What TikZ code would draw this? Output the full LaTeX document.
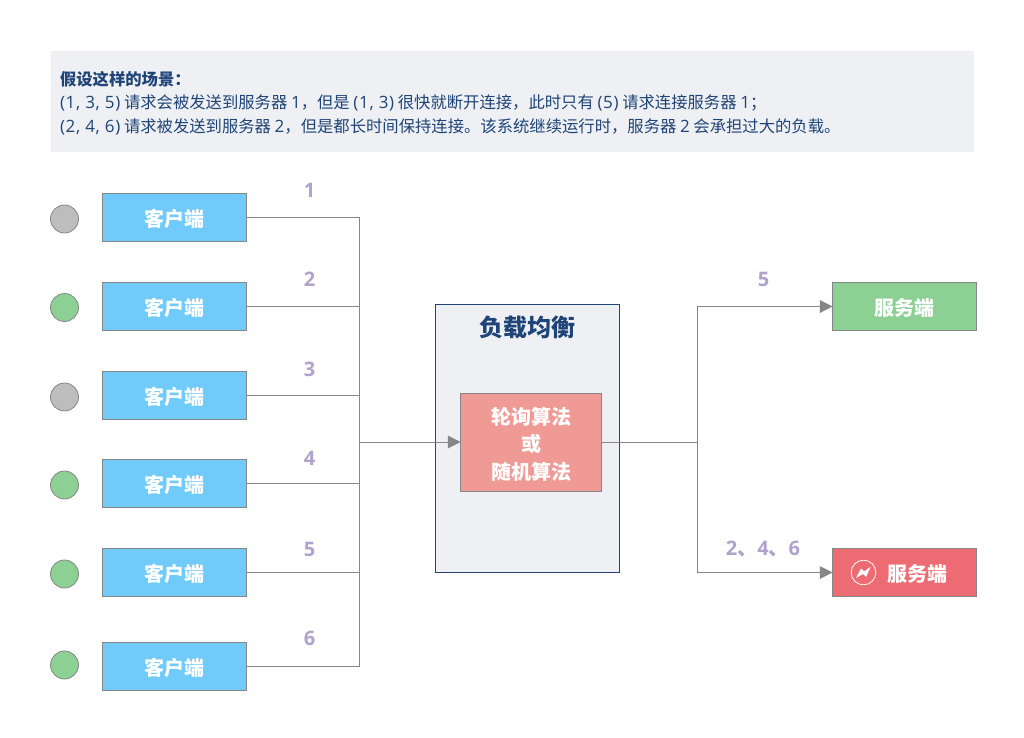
\documentclass[tikz,border=0pt]{standalone}
\usepackage{fontspec}
\setmainfont{Noto Sans CJK SC}
\newfontfamily\lat{Open Sans}
\newfontfamily\latb[Scale=1.04,LetterSpace=4]{Open Sans}
\newcommand{\lowered}[1]{\raisebox{-0.9pt}[\height][\depth]{#1}}
\newcommand{\lowerede}[1]{\raisebox{-1.7pt}[\height][\depth]{#1}}
\usetikzlibrary{arrows.meta}
\definecolor{bannerbg}{HTML}{EEF0F3}
\definecolor{navy}{HTML}{1F4477}
\definecolor{edge}{HTML}{868686}
\definecolor{skyfill}{HTML}{70CBFA}
\definecolor{greenfill}{HTML}{8DD094}
\definecolor{redfill}{HTML}{ED6C73}
\definecolor{pinkfill}{HTML}{F09A96}
\definecolor{greyfill}{HTML}{BDBDBD}
\definecolor{lilac}{HTML}{B0A2CB}
\tikzset{
  every node/.style={inner sep=0pt,outer sep=0pt},
  boxbase/.style={draw=edge,line width=0.75pt,text=white,font=\fontsize{15}{18}\selectfont\bfseries,align=center},
  client/.style={boxbase,fill=skyfill,minimum width=108pt,minimum height=36pt},
  server/.style={boxbase,fill=greenfill,minimum width=108pt,minimum height=36pt},
  hot/.style={server,fill=redfill},
  lamp/.style={circle,draw=edge,line width=0.6pt,minimum size=21pt},
  numlabel/.style={text=lilac,font=\fontsize{15}{17}\selectfont\lat\bfseries},
  wire/.style={draw=edge,line width=0.75pt},
  flow/.style={wire,-{Triangle[length=9.5pt,width=9.5pt,fill=edge]}}
}
\begin{document}
\begin{tikzpicture}[x=0.75pt,y=-0.75pt]
\useasboundingbox (0,0) rectangle (1024,738);
\fill[white] (0,0) rectangle (1024,738);
% banner
\node[fill=bannerbg,minimum width=692.25pt,minimum height=75.75pt,anchor=north west] (banner) at (51,51) {};
\node[anchor=west,text=navy,font=\fontsize{12.25}{17.5}\selectfont,align=left] (bannertext) at (60,103) {\spaceskip=7.7pt
{\bfseries 假设这样的场景：}\\
{\latb (1, 3, 5)} 请求会被发送到服务器 {\latb 1}，但是 {\latb (1, 3)} 很快就断开连接，此时只有 {\latb (5)} 请求连接服务器 {\latb 1}；\\
{\latb (2, 4, 6)} 请求被发送到服务器 {\latb 2}，但是都长时间保持连接。该系统继续运行时，服务器 {\latb 2} 会承担过大的负载。};
% load balancer
\node[draw=navy,fill=bannerbg,line width=0.75pt,minimum width=138pt,minimum height=201pt,anchor=north west] (lb) at (435.5,304.5) {};
\node[text=navy,font=\fontsize{18}{22}\selectfont\bfseries] (lbtitle) at (527,327) {负载均衡};
\node[boxbase,fill=pinkfill,minimum width=105.75pt,minimum height=73.5pt,font=\fontsize{15}{20.6}\selectfont\bfseries] (algo) at (531,442) {\lowerede{轮询算法}\\\lowerede{或}\\\lowerede{随机算法}};
% clients
\node[client] (c1) at (174.5,217.5) {\lowered{客户端}};
\node[client] (c2) at (174.5,306.5) {\lowered{客户端}};
\node[client] (c3) at (174.5,395.5) {\lowered{客户端}};
\node[client] (c4) at (174.5,483.5) {\lowered{客户端}};
\node[client] (c5) at (174.5,572.5) {\lowered{客户端}};
\node[client] (c6) at (174.5,666.5) {\lowered{客户端}};
% lamps
\node[lamp,fill=greyfill] (l1) at (64.5,219) {};
\node[lamp,fill=greenfill] (l2) at (64.5,307.5) {};
\node[lamp,fill=greyfill] (l3) at (64.5,397) {};
\node[lamp,fill=greenfill] (l4) at (64.5,485) {};
\node[lamp,fill=greenfill] (l5) at (64.5,574) {};
\node[lamp,fill=greenfill] (l6) at (64.5,665) {};
% servers
\node[server] (s1) at (904.5,306.5) {\lowered{服务端}};
\node[hot] (s2) at (904.5,572.5) {\lowered{\hspace*{20pt}服务端}};
\node[circle,draw=white,line width=0.6pt,minimum size=18.5pt] (icon) at (863.5,572.5) {};
\fill[white] (856,578) -- (861,568.5) -- (864,571.5) -- (870.5,567) -- (866,577) -- (863,574) -- cycle;
% connectors
\coordinate (bus) at (359.5,442);
\coordinate (fork) at (697.5,442);
\foreach \c in {c1,c2,c3,c4,c5,c6}{\draw[wire] (\c.east) -| (bus);}
\draw[flow] (bus) -- (algo.west);
\draw[wire] (algo.east) -- (fork);
\draw[flow] (fork) |- (s1.west);
\draw[flow] (fork) |- (s2.west);
% labels
\node[numlabel] (n1) at (309.5,190.5) {1};
\node[numlabel] (n2) at (309.5,279.5) {2};
\node[numlabel] (n3) at (309.5,369.5) {3};
\node[numlabel] (n4) at (309.5,458.5) {4};
\node[numlabel] (n5) at (309.5,549.5) {5};
\node[numlabel] (n6) at (309.5,638.5) {6};
\node[numlabel] (n7) at (763.5,279.5) {5};
\node[numlabel] (n8) at (763,549.5) {2{\fontspec{Noto Sans CJK SC}、}4{\fontspec{Noto Sans CJK SC}、}6};
\end{tikzpicture}
\end{document}
